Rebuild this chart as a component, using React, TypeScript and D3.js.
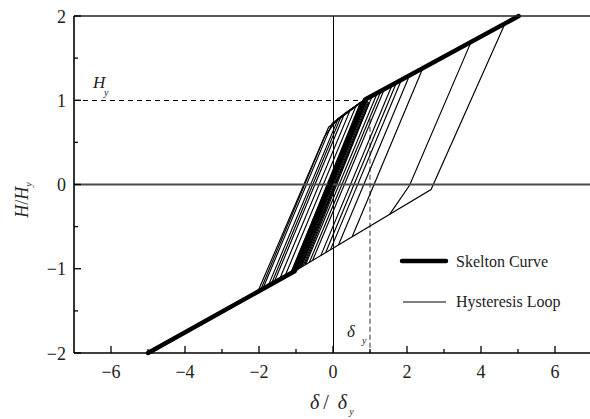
import React from 'react';
import * as d3 from 'd3';

type Pt = [number, number];

// Skeleton (backbone) curve
const skeletonX = [-5, -1.04, 0.87, 5.02];
const skeletonY = [-2, -1.03, 1.01, 2.0];

// Large positive excursions: peak -> unload -> reload towards negative side
const majorLoops: Pt[][] = [
  [[4.65, 1.91], [2.65, -0.06], [-1.04, -1.03]],
  [[3.73, 1.69], [2.07, -0.01], [1.53, -0.355]],
];

// Unloading branches from positive peaks on the skeleton
const positiveUnloads: Pt[][] = [
  [[1.07, 1.058], [-0.88, -0.987]],
  [[1.2, 1.089], [-0.74, -0.952]],
  [[1.3, 1.112], [-0.64, -0.925]],
  [[1.39, 1.134], [-0.55, -0.9]],
  [[1.6, 1.184], [-0.33, -0.844]],
  [[1.72, 1.213], [-0.2, -0.81]],
  [[1.85, 1.244], [-0.07, -0.776]],
  [[2.07, 1.296], [0.15, -0.716]],
  [[2.43, 1.382], [0.52, -0.618]],
];

// Reloading branches from negative peaks towards the positive yield point
const negativeReloads: Pt[][] = [
  [[-2.03, -1.27], [-0.23, 0.57], [0.13, 0.78], [0.87, 1.01]],
  [[-1.96, -1.255], [-0.12, 0.68], [0.87, 1.01]],
  [[-1.9, -1.24], [-0.02, 0.73], [0.87, 1.01]],
  [[-1.75, -1.2], [0.14, 0.78], [0.87, 1.01]],
  [[-1.67, -1.185], [0.22, 0.81], [0.87, 1.01]],
  [[-1.6, -1.17], [0.31, 0.84], [0.87, 1.01]],
  [[-1.45, -1.13], [0.47, 0.89], [0.87, 1.01]],
  [[-1.3, -1.09], [0.63, 0.94], [0.87, 1.01]],
  [[-1.15, -1.06], [0.8, 0.99]],
];

// Small elastic cycles near the origin
const elasticCycles: Pt[][] = [
  [[-1.15, -1.07], [0.72, 0.95]],
  [[-1.1, -1.06], [0.76, 0.97]],
  [[-1.06, -1.05], [0.79, 0.98]],
  [[-1.02, -1.04], [0.82, 0.99]],
  [[-0.98, -1.02], [0.85, 1.0]],
  [[-0.95, -1.01], [0.88, 1.01]],
  [[-0.91, -0.99], [0.9, 1.01]],
  [[-0.88, -0.98], [0.92, 1.0]],
  [[-0.84, -0.97], [0.94, 0.99]],
  [[-0.8, -0.96], [0.96, 0.98]],
  [[-0.76, -0.95], [0.98, 0.97]],
];

const xMajorTicks = [-6, -4, -2, 0, 2, 4, 6];
const xMinorTicks = [-5, -3, -1, 1, 3, 5];
const yMajorTicks = [-2, -1, 0, 1, 2];
const yMinorTicks = [-1.5, -0.5, 0.5, 1.5];

const yieldForce = 1;
const yieldDisp = 1;
const yieldKneeX = 0.87;

const legendLabels = ['Skelton Curve', 'Hysteresis Loop'];

const FONT = "'Liberation Serif', 'DejaVu Serif', serif";
const ts: React.CSSProperties = { fontFamily: FONT };

const fmt = (v: number) => (v < 0 ? '\u2212' + Math.abs(v) : String(v));

export default function App() {
  const x = d3.scaleLinear().domain([-7, 7]).range([74, 592]);
  const y = d3.scaleLinear().domain([-2, 2]).range([353, 16]);
  const line = d3
    .line<Pt>()
    .x((d) => x(d[0]))
    .y((d) => y(d[1]));

  const skeleton: Pt[] = skeletonX.map((v, i) => [v, skeletonY[i]]);
  const thin = [...negativeReloads, ...elasticCycles, ...positiveUnloads, ...majorLoops];

  const x0 = x(-7);
  const x1 = x(7);
  const yTop = y(2);
  const yBot = y(-2);

  return (
    <svg
      width={590}
      height={419}
      style={{ position: 'absolute', left: 0, top: 0, background: '#fff', fontFamily: FONT }}
    >
      <rect x={0} y={0} width={590} height={419} fill="#fff" />

      {/* reference dashed lines */}
      <line
        x1={x0}
        x2={x(yieldKneeX)}
        y1={y(yieldForce) + 0.5}
        y2={y(yieldForce) + 0.5}
        stroke="#000"
        strokeWidth={1}
        strokeDasharray="5,4"
        shapeRendering="crispEdges"
      />
      <line
        x1={x(yieldDisp)}
        x2={x(yieldDisp)}
        y1={y(0.78)}
        y2={yBot}
        stroke="#777"
        strokeWidth={1.5}
        strokeDasharray="5,3"
      />

      {/* x = 0 line */}
      <line
        x1={x(0) + 0.5}
        x2={x(0) + 0.5}
        y1={yTop}
        y2={yBot}
        stroke="#000"
        strokeWidth={1}
        shapeRendering="crispEdges"
      />

      {/* hysteresis loops */}
      {thin.map((pts, i) => (
        <path key={i} d={line(pts) || ''} fill="none" stroke="#000" strokeWidth={1.15} />
      ))}

      {/* y = 0 line */}
      <line x1={x0} x2={x1} y1={y(0)} y2={y(0)} stroke="#4a4a4a" strokeWidth={2} />

      {/* skeleton curve */}
      <path
        d={line(skeleton) || ''}
        fill="none"
        stroke="#000"
        strokeWidth={4.5}
        strokeLinecap="round"
        strokeLinejoin="round"
      />

      {/* frame */}
      <line x1={x0} x2={x1} y1={yTop} y2={yTop} stroke="#222" strokeWidth={1.6} />
      <line x1={x0} x2={x1} y1={yBot} y2={yBot} stroke="#000" strokeWidth={1.6} />
      <line x1={x0} x2={x0} y1={yTop} y2={yBot} stroke="#000" strokeWidth={1.6} />

      {/* ticks */}
      {xMajorTicks.map((t) => (
        <line key={'xM' + t} x1={x(t)} x2={x(t)} y1={yBot} y2={yBot - 7} stroke="#000" strokeWidth={1.3} />
      ))}
      {xMinorTicks.map((t) => (
        <line key={'xm' + t} x1={x(t)} x2={x(t)} y1={yBot} y2={yBot - 4} stroke="#000" strokeWidth={1.3} />
      ))}
      {yMajorTicks.map((t) => (
        <line key={'yM' + t} x1={x0} x2={x0 + 7} y1={y(t)} y2={y(t)} stroke="#000" strokeWidth={1.3} />
      ))}
      {yMinorTicks.map((t) => (
        <line key={'ym' + t} x1={x0} x2={x0 + 4} y1={y(t)} y2={y(t)} stroke="#000" strokeWidth={1.3} />
      ))}

      {/* tick labels */}
      {xMajorTicks.map((t) => (
        <text key={'xl' + t} style={ts} x={x(t)} y={378} textAnchor="middle" fontSize={18} fill="#222">
          {fmt(t)}
        </text>
      ))}
      {yMajorTicks.map((t) => (
        <text key={'yl' + t} style={ts} x={66} y={y(t) + 6.5} textAnchor="end" fontSize={18} fill="#222">
          {fmt(t)}
        </text>
      ))}

      {/* axis titles */}
      <text style={ts} transform="translate(28,200) rotate(-90)" textAnchor="middle" fontSize={18} fill="#222">
        <tspan fontStyle="italic">H</tspan>
        <tspan>/</tspan>
        <tspan fontStyle="italic">H</tspan>
        <tspan fontSize={10} fontStyle="italic" dy={4}>y</tspan>
      </text>
      <text style={ts} x={310} y={409} fontSize={20} fill="#222">
        <tspan fontStyle="italic">δ</tspan>
        <tspan dx={4}>/</tspan>
        <tspan dx={9} fontStyle="italic">δ</tspan>
        <tspan fontSize={10} fontStyle="italic" dy={6} dx={2}>y</tspan>
      </text>

      {/* annotations */}
      <text style={ts} x={93} y={88} fontSize={17} fill="#222" fontStyle="italic">
        H
      </text>
      <text style={ts} x={104} y={96} fontSize={10} fill="#222" fontStyle="italic">
        y
      </text>
      <text style={ts} x={347} y={337} fontSize={17} fill="#222" fontStyle="italic">
        δ
      </text>
      <text style={ts} x={362} y={344} fontSize={10} fill="#222" fontStyle="italic">
        y
      </text>

      {/* legend */}
      <line x1={402} x2={446} y1={261} y2={261} stroke="#000" strokeWidth={4.5} strokeLinecap="round" />
      <text style={ts} x={456} y={266.5} fontSize={16} fill="#222">
        {legendLabels[0]}
      </text>
      <line x1={403} x2={446} y1={302} y2={302} stroke="#000" strokeWidth={1} />
      <text style={ts} x={456} y={307} fontSize={16} fill="#222">
        {legendLabels[1]}
      </text>
    </svg>
  );
}
